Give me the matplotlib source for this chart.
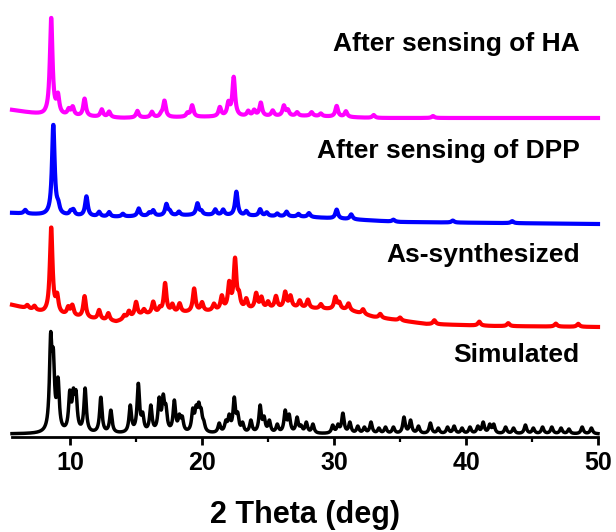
import numpy as np
import matplotlib.pyplot as plt

plt.rcParams['font.family'] = ['Liberation Sans', 'DejaVu Sans']
plt.rcParams['font.weight'] = 'bold'

# peak positions (2theta, deg) and peak tops above the background (a.u.)
sim_pos = [8.53, 8.73, 9.09, 9.98, 10.25, 10.45, 11.14, 12.33, 13.09, 14.56,
           15.17, 15.5, 16.12, 16.75, 17.06, 17.26, 17.9, 18.28, 18.5, 19.3,
           19.55, 19.75, 19.93, 20.13, 21.3, 21.8, 22.06, 22.44, 22.7, 23.07,
           23.7, 24.4, 24.7, 25.1, 25.7, 26.3, 26.6, 27.2, 27.5, 27.9, 28.4,
           29.9, 30.3, 30.67, 31.2, 31.8, 32.3, 32.8, 33.4, 33.9, 34.5, 35.3,
           35.8, 36.4, 37.3, 37.9, 38.6, 39.1, 39.7, 40.3, 40.9, 41.3, 41.8,
           42.1, 43.0, 43.6, 44.5, 45.1, 45.8, 46.5, 47.2, 47.8, 48.8, 49.5]
sim_top = [102, 86, 57, 44, 46, 44, 46, 37, 24, 29,
           51, 22, 29, 37, 40, 30, 34, 20, 18, 26,
           29, 32, 26, 14, 11, 14, 20, 37, 22, 12,
           14, 29, 18, 14, 10, 24, 20, 17, 9, 12, 10,
           9, 10, 21, 12, 8, 7, 12, 6, 7, 7, 17,
           14, 8, 11, 6, 7, 8, 6, 7, 8, 12, 10,
           10, 7, 6, 9, 6, 7, 7, 6, 5, 7, 6]

red_pos = [6.76, 7.3, 8.57, 9.02, 9.86, 10.17, 11.1, 12.2, 12.9, 14.1,
           14.46, 15.0, 15.6, 16.3, 16.8, 17.2, 17.75, 18.3, 19.4, 20.0,
           20.9, 21.5, 22.06, 22.5, 22.8, 23.35, 24.1, 24.5, 25.0, 25.6,
           26.3, 26.7, 27.4, 28.02, 29.0, 30.1, 30.4, 31.1, 32.2, 33.5,
           35.0, 37.6, 41.0, 43.2, 46.8, 48.5]
red_top = [4, 5, 87, 22, 10, 12, 22, 10, 8, 5,
           8, 15, 6, 13, 8, 31, 10, 10, 24, 10,
           8, 16, 30, 53, 20, 12, 17, 13, 8, 13,
           17, 13, 8, 9, 5, 13, 8, 7, 5, 4,
           3, 4, 4, 3, 3, 3]

blue_pos = [6.6, 8.73, 9.1, 10.05, 10.25, 11.24, 12.2, 12.96, 14.0, 15.2,
            16.0, 16.3, 17.3, 17.55, 18.25, 19.65, 19.95, 21.0, 21.6, 22.6,
            23.35, 24.4, 24.9, 25.7, 26.4, 27.3, 28.1, 30.2, 31.3, 34.5,
            39.0, 43.5]
blue_top = [4, 91, 16, 6, 7, 20, 5, 5, 3, 8,
            4, 6, 12, 6, 4, 12, 5, 6, 6, 24,
            5, 7, 4, 3, 5, 3, 4, 9, 5, 2,
            2, 2]

mag_pos = [8.57, 9.08, 9.9, 10.2, 11.1, 12.4, 12.96, 15.1, 16.2, 16.9,
           17.15, 18.9, 19.25, 21.35, 22.0, 22.4, 23.5, 23.95, 24.45, 25.35,
           26.2, 26.5, 27.2, 28.3, 29.0, 30.2, 30.9, 33.0, 37.5]
mag_top = [98, 23, 8, 10, 18, 8, 6, 7, 6, 6,
           17, 5, 12, 10, 16, 40, 6, 7, 14, 6,
           11, 7, 4, 4, 3, 11, 6, 3, 2]

# background of each pattern, already stacked
sim_bg_x = [5.6, 50]
sim_bg_y = [3, 3]
red_bg_x = [5.6, 8, 13.5, 15.5, 20, 27, 31, 33, 37, 42, 50]
red_bg_y = [132, 124, 115, 122, 125, 129, 127, 120, 113, 111, 110]
blue_bg_x = [5.6, 8, 13, 20, 28, 35, 50]
blue_bg_y = [224, 222, 220, 222, 220, 215, 213]
mag_bg_x = [5.6, 8, 14, 20, 28, 33, 50]
mag_bg_y = [327, 322, 319, 320, 321, 319, 319]

names = ['After sensing of HA', 'After sensing of DPP', 'As-synthesized', 'Simulated']
colors = ['#FF00FF', '#0000FF', '#FF0000', '#000000']
label_y = [393, 286, 182, 82]

two_theta = np.arange(5.6, 50.001, 0.02)


def lorentz(d, fwhm):
    g = fwhm / 2
    return g * g / (d * d + g * g)


def pattern(pos, top, bg_x, bg_y, fwhm):
    pos = np.array(pos)
    # amplitudes chosen so the summed profile passes through each peak top
    A = lorentz(pos[:, None] - pos[None, :], fwhm)
    amp = np.clip(np.linalg.solve(A, np.array(top, float)), 0, None)
    y = np.interp(two_theta, bg_x, bg_y)
    for p, a in zip(pos, amp):
        y = y + a * lorentz(two_theta - p, fwhm)
    return y


curves = [
    pattern(mag_pos, mag_top, mag_bg_x, mag_bg_y, 0.24),
    pattern(blue_pos, blue_top, blue_bg_x, blue_bg_y, 0.24),
    pattern(red_pos, red_top, red_bg_x, red_bg_y, 0.24),
    pattern(sim_pos, sim_top, sim_bg_x, sim_bg_y, 0.22),
]
widths = [3.0, 3.0, 3.0, 2.5]

fig = plt.figure(figsize=(6.16, 5.32), dpi=100)
ax = fig.add_axes([12 / 616, 95 / 532, 586 / 616, 427 / 532])

for y, c, lw, name, ly in zip(curves, colors, widths, names, label_y):
    ax.plot(two_theta, y, color=c, lw=lw, clip_on=False)
    ax.text(48.6, ly, name, ha='right', va='center', fontsize=19,
            fontweight='bold', color='black')

ax.set_xlim(5.6, 50)
ax.set_ylim(0, 427)
ax.set_xticks([10, 20, 30, 40, 50])
ax.set_xticks([15, 25, 35, 45], minor=True)
ax.set_yticks([])
for s in ['left', 'right', 'top']:
    ax.spines[s].set_visible(False)
ax.spines['bottom'].set_linewidth(2)
ax.tick_params(axis='x', which='major', direction='out', length=6, width=2,
               labelsize=18, pad=4)
ax.tick_params(axis='x', which='minor', direction='out', length=3.5, width=1.6)
for t in ax.get_xticklabels():
    t.set_fontweight('bold')
ax.set_xlabel('2 Theta (deg)', fontsize=22, fontweight='bold', labelpad=18)

fig.savefig('out.png', dpi=100)
